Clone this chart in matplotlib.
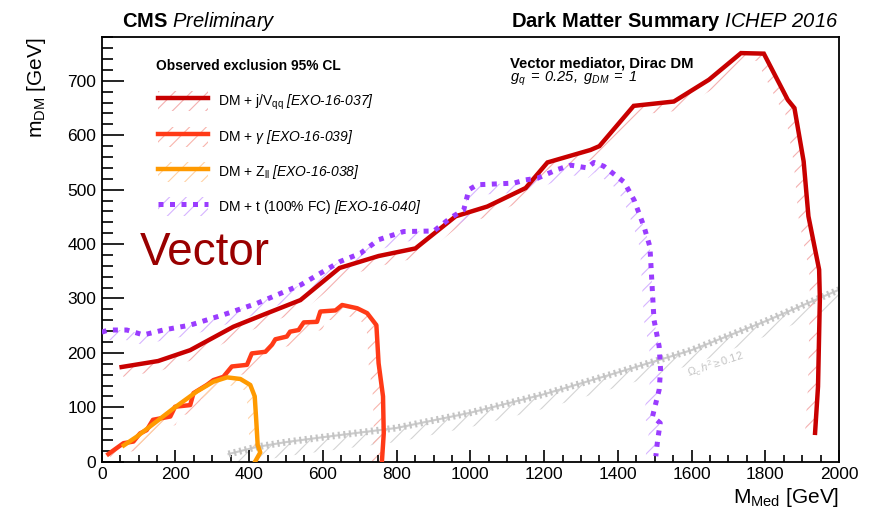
import numpy as np
import matplotlib
matplotlib.use("Agg")
import matplotlib.pyplot as plt
from matplotlib.patches import Patch
from matplotlib.lines import Line2D

plt.rcParams['font.family'] = ['Liberation Sans', 'DejaVu Sans']
plt.rcParams['mathtext.fontset'] = 'custom'
plt.rcParams['mathtext.rm'] = 'Liberation Sans'
plt.rcParams['mathtext.it'] = 'Liberation Sans:italic'
plt.rcParams['mathtext.bf'] = 'Liberation Sans:bold'
plt.rcParams['mathtext.sf'] = 'Liberation Sans:italic'
plt.rcParams['hatch.linewidth'] = 0.8

# ---------------- data (M_Med, m_DM) in GeV ----------------
jv_x = [54, 153, 240, 357, 438, 539, 645, 751, 851, 960, 1046, 1150, 1209, 1326, 1350,
        1443, 1552, 1647, 1734, 1796, 1861, 1879, 1904, 1917, 1946, 1948, 1943, 1935]
jv_y = [174, 185, 205, 248, 270, 297, 356, 378, 392, 451, 469, 503, 550, 573, 580,
        654, 662, 702, 751, 750, 665, 650, 552, 451, 353, 300, 138, 53]

g_x = [18, 59, 86, 104, 122, 139, 186, 199, 240, 249, 285, 303, 330, 353, 394, 407, 444,
       462, 471, 502, 511, 534, 548, 584, 593, 634, 652, 693, 720, 745, 751, 763, 765, 760]
g_y = [14, 34, 37, 52, 58, 77, 83, 101, 104, 126, 141, 150, 156, 175, 178, 199, 202,
       215, 225, 230, 239, 242, 256, 257, 276, 278, 288, 282, 273, 251, 181, 120, 52, 0]

z_x = [60, 95, 149, 195, 258, 303, 340, 376, 403, 415, 419, 423, 430, 416]
z_y = [30, 46, 74, 98, 129, 147, 155, 152, 141, 120, 77, 31, 17, 0]

t_x = [0, 18, 68, 113, 167, 240, 330, 421, 540, 647, 702, 751, 819, 901, 946, 982, 996,
       1019, 1118, 1150, 1182, 1236, 1272, 1317, 1335, 1362, 1417, 1444, 1471, 1487, 1491,
       1494, 1498, 1512, 1516, 1512, 1494, 1515, 1508, 1503]
t_y = [238, 242, 242, 233, 242, 251, 270, 291, 325, 368, 383, 408, 423, 424, 448, 463, 500,
       509, 512, 518, 521, 537, 545, 540, 550, 543, 514, 481, 432, 395, 347,
       310, 261, 212, 169, 132, 83, 71, 40, 10]

relic_x = [344, 420, 500, 600, 800, 1000, 1200, 1400, 1600, 1800, 2000]
relic_y = [14, 27, 36, 45, 62, 90, 124, 164, 205, 258, 316]

labels = ['DM + j/V$_{\\mathregular{qq}}$ $\\mathsf{[EXO}$-$\\mathsf{16}$-$\\mathsf{037]}$',
          'DM + $\\gamma$ $\\mathsf{[EXO}$-$\\mathsf{16}$-$\\mathsf{039]}$',
          'DM + Z$_{\\mathregular{ll}}$ $\\mathsf{[EXO}$-$\\mathsf{16}$-$\\mathsf{038]}$',
          'DM + t (100% FC) $\\mathsf{[EXO}$-$\\mathsf{16}$-$\\mathsf{040]}$']

line_cols = ['#c80000', '#ff3a17', '#ff9a00', '#9a3cff']
hatch_cols = ['#f4b0b0', '#f8b4ac', '#ffd2a6', '#d6b4ff']

fig = plt.figure(figsize=(8.71, 5.14), dpi=100)
ax = fig.add_axes([0.1168, 0.1018, 0.8465, 0.8256])
ax.set_xlim(0, 2000)
ax.set_ylim(0, 780)


def band(x, y, w, col, z=1):
    pts = ax.transData.transform(np.column_stack([x, y]).astype(float))
    d = np.gradient(pts, axis=0)
    n = np.column_stack([d[:, 1], -d[:, 0]])
    n /= np.linalg.norm(n, axis=1)[:, None]
    off = pts + n * w
    poly = np.vstack([pts, off[::-1]])
    dat = ax.transData.inverted().transform(poly)
    ax.fill(dat[:, 0], dat[:, 1], facecolor='none', edgecolor=col, hatch='//',
            linewidth=0, zorder=z)


# relic density line
band(relic_x, relic_y, 14, '#d4d4d4')
ax.plot(relic_x, relic_y, color='#cccccc', lw=1.5, zorder=2)
ax.plot(relic_x, relic_y, color='#c4c4c4', lw=5, dashes=(0.3, 0.5), zorder=2)
ax.text(1665, 178, '$\\Omega_{c}\\,h^{2} \\geq 0.12$', color='#c4c4c4', fontsize=8,
        rotation=18, ha='center', va='center')

curves = [(jv_x, jv_y), (g_x, g_y), (z_x, z_y), (t_x, t_y)]
widths = [10, 10, 8, 10]
for (cx, cy), lc, hc, w in zip(curves, line_cols, hatch_cols, widths):
    band(cx, cy, w, hc)

ax.plot(jv_x, jv_y, color=line_cols[0], lw=3.2, zorder=4, solid_joinstyle='miter')
ax.plot(g_x, g_y, color=line_cols[1], lw=3.2, zorder=5)
ax.plot(z_x, z_y, color=line_cols[2], lw=3.2, zorder=6)
ax.plot(t_x, t_y, color=line_cols[3], lw=3.6, linestyle=(0, (1, 1.3)), zorder=4)

# axes styling
ax.set_xticks(np.arange(0, 2001, 200))
ax.set_yticks(np.arange(0, 701, 100))
ax.set_xticks(np.arange(0, 2001, 50), minor=True)
ax.set_yticks(np.arange(0, 781, 20), minor=True)
ax.tick_params(which='both', direction='in', top=False, right=False, width=1.2,
               labelsize=12.5)
ax.xaxis.set_tick_params(which='major', length=9, pad=4)
ax.xaxis.set_tick_params(which='minor', length=5)
ax.yaxis.set_tick_params(which='major', length=16, pad=4)
ax.yaxis.set_tick_params(which='minor', length=8)
for s in ax.spines.values():
    s.set_linewidth(1.3)

ax.set_xlabel('M$_{\\mathregular{Med}}$ [GeV]', fontsize=15, loc='right')
ax.xaxis.set_label_coords(1.0, -0.058)
ax.set_ylabel('m$_{\\mathregular{DM}}$ [GeV]', fontsize=15, loc='top')
ax.yaxis.set_label_coords(-0.073, 1.0)

# header texts
fig.text(122 / 871, 1 - 27 / 514, '$\\mathbf{CMS}\\ \\mathsf{Preliminary}$',
         fontsize=14.5, va='baseline', ha='left')
fig.text(838 / 871, 1 - 27 / 514,
         '$\\mathbf{Dark\\ Matter\\ Summary}\\ \\mathsf{ICHEP\\ 2016}$',
         fontsize=14.5, va='baseline', ha='right')
fig.text(510 / 871, 1 - 67 / 514, 'Vector mediator, Dirac DM', fontsize=10.7,
         fontweight='bold', va='baseline')
fig.text(510 / 871, 1 - 82 / 514, '$\\mathsf{g_{q}\\;=\\;0.25,\\ g_{DM}\\;=\\;1}$',
         fontsize=10.5, va='baseline')
fig.text(140 / 871, 1 - 265 / 514, 'Vector', fontsize=33, color='#990000',
         va='baseline')

# legend
fig.text(156 / 871, 1 - 70 / 514, 'Observed exclusion 95% CL', fontsize=9.9,
         fontweight='bold', va='baseline')
handles = []
for i, (lc, hc) in enumerate(zip(line_cols, hatch_cols)):
    p = Patch(facecolor='none', edgecolor=hc, hatch='//', linewidth=0)
    if i == 3:
        l = Line2D([], [], color=lc, lw=3.6, linestyle=(0, (1, 1.3)))
    else:
        l = Line2D([], [], color=lc, lw=3.2)
    handles.append((p, l))
leg = ax.legend(handles, labels, loc='upper left', bbox_to_anchor=(158 / 871, 1 - 91 / 514),
                bbox_transform=fig.transFigure, frameon=False, fontsize=10,
                borderpad=0, borderaxespad=0,
                handlelength=3.6, handleheight=1.8, handletextpad=0.7,
                labelspacing=1.1)
leg.set_zorder(10)

fig.savefig('out.png', dpi=100)
